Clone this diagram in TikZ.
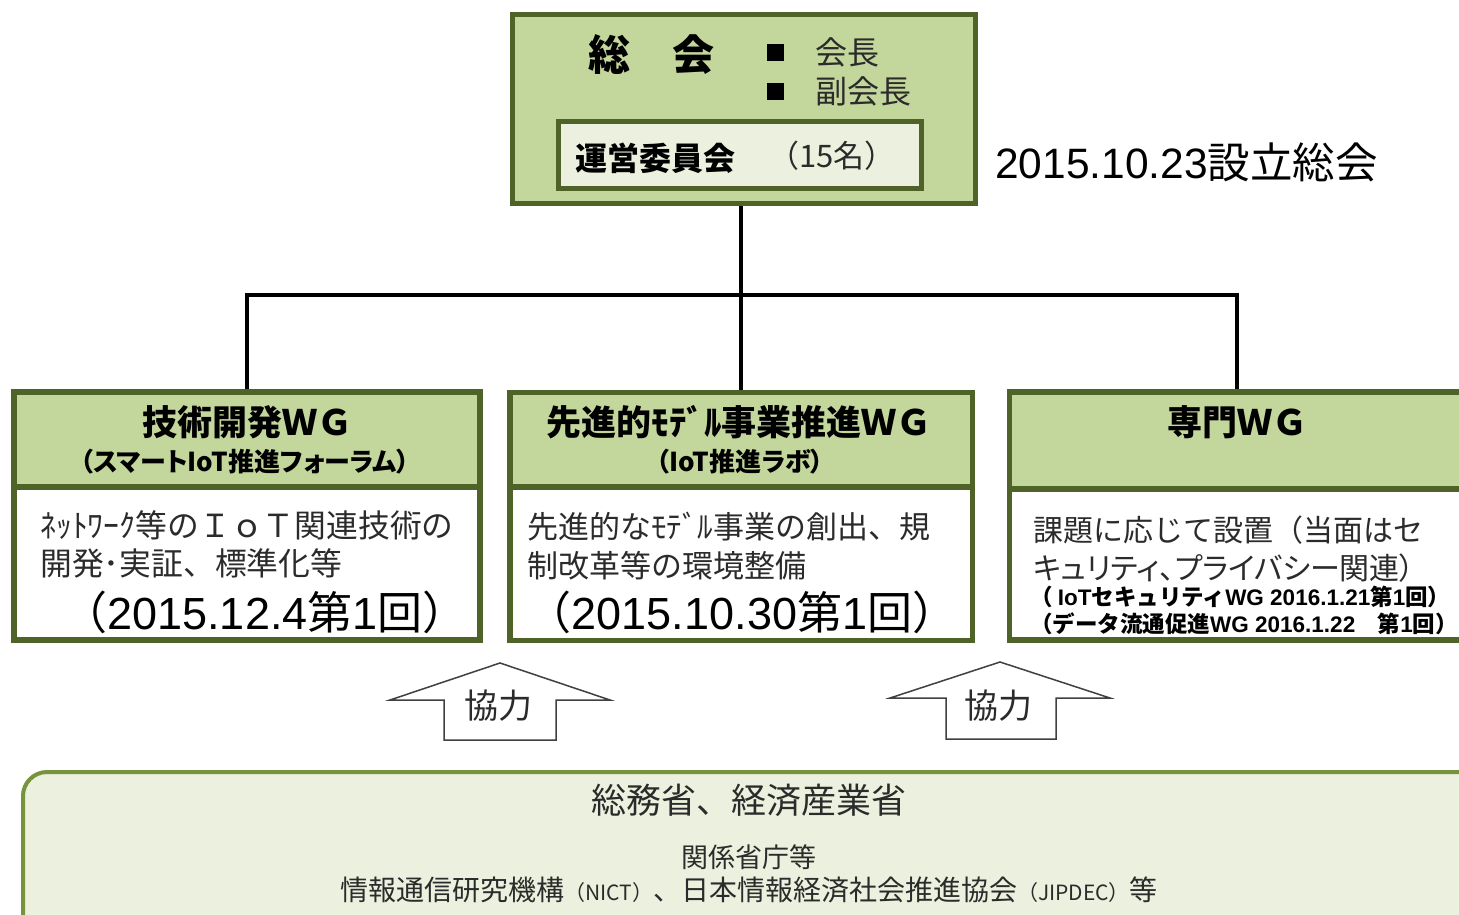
\documentclass[tikz,border=0pt]{standalone}
\usepackage{fontspec}
\setmainfont{Noto Sans CJK JP}
\newfontfamily\jpp[RawFeature=+palt]{Noto Sans CJK JP}
\newfontfamily\arl{Liberation Sans}
\definecolor{bordergreen}{HTML}{4F6228}
\definecolor{headgreen}{HTML}{C3D69B}
\definecolor{palegreen}{HTML}{EBF1DE}
\definecolor{bottomgreen}{HTML}{77933C}
\definecolor{bodytext}{HTML}{2B2B2B}
\newcommand\setfs[1]{\fontsize{#1}{#1}\selectfont}
\begin{document}
\begin{tikzpicture}[x=1pt,y=-1pt,
  hdr/.style={draw=bordergreen, line width=5.5pt, fill=headgreen, inner sep=0pt},
  bdy/.style={draw=bordergreen, line width=5.5pt, fill=white, inner sep=0pt},
  conn/.style={draw=black, line width=4pt},
  blockarrow/.style={draw=black!75, line width=1.5pt, fill=white, line join=miter},
  txt/.style={inner sep=0pt, text=bodytext},
  ttl/.style={inner sep=0pt, text=black}]
\clip (0,0) rectangle (1459,914);
\fill[white] (0,0) rectangle (1459,914);

% top box
\node[hdr, line width=5pt, minimum width=463pt, minimum height=189pt] (top) at (743.5,109) {};
\node[bdy, line width=5pt, fill=palegreen, minimum width=362.5pt, minimum height=67pt] (cmte) at (739.75,154.5) {};
\node[ttl, font=\setfs{42}\bfseries] (sokai) at (651,55) {総　会};
\node[fill=black, minimum size=17pt, inner sep=0pt] (bul1) at (775,52) {};
\node[fill=black, minimum size=17pt, inner sep=0pt] (bul2) at (775,91) {};
\node[txt, anchor=west, font=\setfs{32}] (kaicho) at (815,52) {会長};
\node[txt, anchor=west, font=\setfs{32}] (fuku) at (815,91) {副会長};
\node[ttl, anchor=west, font=\setfs{32}\bfseries] (unei) at (575,158) {運営委員会};
\node[txt, anchor=west, font=\setfs{31}] (num) at (768,156) {（15名）};
\node[ttl, anchor=west, font=\setfs{42.5}] (setsu) at (995,162) {{\arl 2015.10.23}設立総会};

% WG boxes
\node[bdy, minimum width=466pt, minimum height=153pt] (b1) at (247,563.5) {};
\node[hdr, minimum width=466pt, minimum height=95pt] (h1) at (247,439.5) {};
\node[bdy, minimum width=462.5pt, minimum height=153.5pt] (b2) at (741.25,563.5) {};
\node[hdr, minimum width=462.5pt, minimum height=94pt] (h2) at (741.25,439.5) {};
\node[bdy, minimum width=455.5pt, minimum height=151pt] (b3) at (1237.25,564.5) {};
\node[hdr, minimum width=455.5pt, minimum height=97pt] (h3) at (1237.25,440.5) {};

% connectors
\coordinate (j) at (742,295);
\draw[conn] (top.south -| h2.north) -- (h2.north);
\draw[conn] (h1.north) -- (h1.north |- j) -- (h3.north |- j) -- (h3.north);

% header texts
\node[ttl, font=\setfs{35}\bfseries] (t1) at (247,422) {技術開発ＷＧ};
\node[ttl, font=\jpp\setfs{26}\bfseries] (s1) at (245,462) {（スマートIoT推進フォーラム）};
\node[ttl, font=\setfs{35}\bfseries] (t2) at (739,422) {先進的ﾓﾃﾞﾙ事業推進ＷＧ};
\node[ttl, font=\jpp\setfs{26}\bfseries] (s2) at (740,462) {（IoT推進ラボ）};
\node[ttl, font=\setfs{35}\bfseries] (t3) at (1237,422) {専門ＷＧ};

% body texts box 1
\node[txt, anchor=west, font=\setfs{31.8}] (l11) at (40,525) {ﾈｯﾄﾜｰｸ等のＩｏＴ関連技術の};
\node[txt, anchor=west, font=\setfs{31.8}] (l12) at (40,563) {開発･実証、標準化等};
\node[ttl, font=\setfs{45}] (l13) at (265,612) {（{\arl 2015.12.4}第{\arl 1}回）};
% box 2
\node[txt, anchor=west, font=\setfs{31}] (l21) at (527,527) {先進的なﾓﾃﾞﾙ事業の創出、規};
\node[txt, anchor=west, font=\setfs{31}] (l22) at (527,566) {制改革等の環境整備};
\node[ttl, font=\setfs{45}] (l23) at (742,612) {（{\arl 2015.10.30}第{\arl 1}回）};
% box 3
\node[txt, anchor=west, font=\setfs{30}] (l31) at (1033,530) {課題に応じて設置（当面はセ};
\node[txt, anchor=west, font=\jpp\setfs{30}] (l32) at (1033,568) {キュリティ、プライバシー関連）};
\node[ttl, anchor=west, font=\setfs{22.5}\bfseries] (l33) at (1030,597) {（ {\arl IoT}セキュリティ{\arl WG 2016.1.21}第{\arl 1}回）};
\node[ttl, anchor=west, font=\setfs{22.5}\bfseries] (l34) at (1030,624) {（データ流通促進{\arl WG 2016.1.22}　第{\arl 1}回）};

% cooperation arrows
\draw[blockarrow] (500,663) -- (610,700) -- (556,700) -- (556,740) -- (444,740) -- (444,700) -- (390,700) -- cycle;
\node[txt, font=\setfs{34}] (k1) at (498,706) {協力};
\draw[blockarrow] (1000,662) -- (1110,698) -- (1056,698) -- (1056,739) -- (946,739) -- (946,698) -- (890,698) -- cycle;
\node[txt, font=\setfs{34}] (k2) at (998,706) {協力};

% bottom box
\node[draw=bottomgreen, line width=4pt, fill=palegreen, rounded corners=24pt, minimum width=1467pt, minimum height=168pt, inner sep=0pt] (gov) at (756.5,856) {};
\node[txt, font=\setfs{35}] (g1) at (749,800) {総務省、経済産業省};
\node[txt, font=\setfs{27}] (g2) at (749,857) {関係省庁等};
\node[txt, font=\setfs{28}] (g3) at (749,890) {情報通信研究機構{\setfs{21}（NICT）}、日本情報経済社会推進協会{\setfs{21}（JIPDEC）}等};
\end{tikzpicture}
\end{document}
